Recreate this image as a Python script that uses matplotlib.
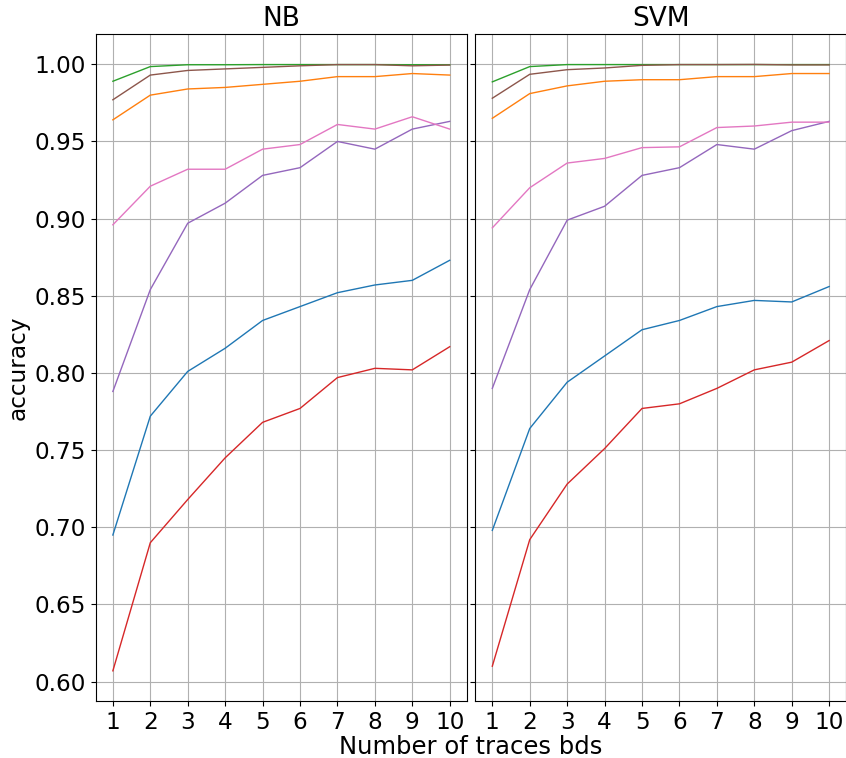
import matplotlib
matplotlib.use('Agg')
import matplotlib.pyplot as plt

traces = list(range(1, 11))

# NB classifier, one list per curve (default colour cycle order)
nb_c0 = [0.695, 0.772, 0.801, 0.816, 0.834, 0.843, 0.852, 0.857, 0.860, 0.873]
nb_c1 = [0.964, 0.980, 0.984, 0.985, 0.987, 0.989, 0.992, 0.992, 0.994, 0.993]
nb_c2 = [0.989, 0.9985, 0.9997, 0.9997, 0.9998, 0.9998, 0.9998, 0.9998, 0.9997, 0.9997]
nb_c3 = [0.607, 0.690, 0.718, 0.745, 0.768, 0.777, 0.797, 0.803, 0.802, 0.817]
nb_c4 = [0.788, 0.854, 0.897, 0.910, 0.928, 0.933, 0.950, 0.945, 0.958, 0.963]
nb_c5 = [0.977, 0.993, 0.996, 0.997, 0.998, 0.999, 0.9998, 0.9998, 0.999, 0.9995]
nb_c6 = [0.896, 0.921, 0.932, 0.932, 0.945, 0.948, 0.961, 0.958, 0.966, 0.958]

# SVM classifier
svm_c0 = [0.698, 0.764, 0.794, 0.811, 0.828, 0.834, 0.843, 0.847, 0.846, 0.856]
svm_c1 = [0.965, 0.981, 0.986, 0.989, 0.990, 0.990, 0.992, 0.992, 0.994, 0.994]
svm_c2 = [0.9886, 0.9985, 0.9998, 0.9998, 0.9998, 0.9998, 0.9998, 0.9998, 0.9998, 0.9998]
svm_c3 = [0.610, 0.692, 0.728, 0.751, 0.777, 0.780, 0.790, 0.802, 0.807, 0.821]
svm_c4 = [0.790, 0.854, 0.899, 0.908, 0.928, 0.933, 0.948, 0.945, 0.957, 0.963]
svm_c5 = [0.978, 0.9935, 0.9965, 0.9976, 0.9993, 0.9998, 0.9998, 0.9999, 0.9996, 0.9996]
svm_c6 = [0.894, 0.920, 0.936, 0.939, 0.946, 0.9465, 0.959, 0.960, 0.9625, 0.9625]

nb_curves = [nb_c0, nb_c1, nb_c2, nb_c3, nb_c4, nb_c5, nb_c6]
svm_curves = [svm_c0, svm_c1, svm_c2, svm_c3, svm_c4, svm_c5, svm_c6]

fs = 16.7
fig, axes = plt.subplots(1, 2, sharey=True, figsize=(8.46, 7.58), dpi=100)
fig.subplots_adjust(left=0.1135, right=1.0, top=0.955, bottom=0.075, wspace=0.024)

for ax, curves, name in zip(axes, [nb_curves, svm_curves], ['NB', 'SVM']):
    for vals in curves:
        ax.plot(traces, vals, linewidth=1)
    ax.set_title(name, fontsize=19)
    ax.set_xticks(traces)
    ax.tick_params(labelsize=fs)
    ax.grid(True)

axes[0].set_ylabel('accuracy', fontsize=fs)
fig.text(0.556, 0.005, 'Number of traces bds', ha='center', va='baseline', fontsize=17.5)

plt.savefig('out.png')
